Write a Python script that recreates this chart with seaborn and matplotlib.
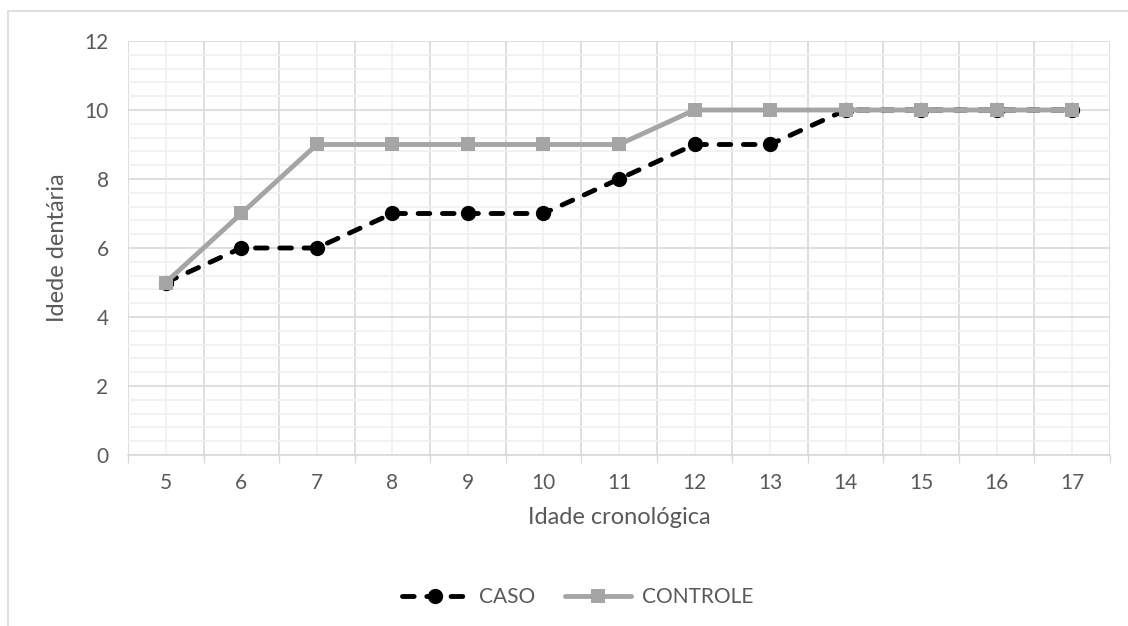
import matplotlib
matplotlib.use("Agg")
import matplotlib.pyplot as plt
from matplotlib.ticker import FixedLocator, MultipleLocator, NullFormatter, FixedFormatter
from matplotlib.lines import Line2D
import seaborn as sns
import pandas as pd

# Chronological age (years) and mean dental age per group
idades = [5, 6, 7, 8, 9, 10, 11, 12, 13, 14, 15, 16, 17]
caso = [5, 6, 6, 7, 7, 7, 8, 9, 9, 10, 10, 10, 10]
controle = [5, 7, 9, 9, 9, 9, 9, 10, 10, 10, 10, 10, 10]

df = pd.DataFrame({
    "idade": idades * 2,
    "dental": caso + controle,
    "grupo": ["CASO"] * len(idades) + ["CONTROLE"] * len(idades),
})

sns.set_theme(style="white")
plt.rcParams["font.family"] = ["Lato", "DejaVu Sans"]
txt = "#595959"
dash = (0, (2.4, 2.6))
caso_style = dict(color="black", linewidth=3.5, linestyle=dash, dash_capstyle="round",
                  marker="o", markersize=11, markeredgewidth=0)
ctrl_style = dict(color="#a5a5a5", linewidth=3.5, marker="s", markersize=10,
                  markeredgewidth=0)

fig = plt.figure(figsize=(11.28, 6.26), dpi=100)
ax = fig.add_axes([128 / 1128, 1 - 455 / 626, (1110 - 128) / 1128, (455 - 41) / 626])

sns.lineplot(data=df[df.grupo == "CASO"], x="idade", y="dental", ax=ax,
             zorder=3, **caso_style)
sns.lineplot(data=df[df.grupo == "CONTROLE"], x="idade", y="dental", ax=ax,
             zorder=4, **ctrl_style)

ax.set_xlim(idades[0] - 0.5, idades[-1] + 0.5)
ax.set_ylim(0, 12)

bounds = [i - 0.5 for i in idades] + [idades[-1] + 0.5]
ax.xaxis.set_major_locator(FixedLocator(bounds))
ax.xaxis.set_major_formatter(NullFormatter())
ax.xaxis.set_minor_locator(FixedLocator(idades))
ax.xaxis.set_minor_formatter(FixedFormatter([str(i) for i in idades]))
ax.tick_params(axis="x", which="major", length=6, width=1, color="#d9d9d9",
               direction="out", bottom=True)
ax.tick_params(axis="x", which="minor", length=0, pad=13, labelsize=15, labelcolor=txt)

ax.yaxis.set_major_locator(MultipleLocator(2))
ax.yaxis.set_minor_locator(MultipleLocator(0.4))
ax.tick_params(axis="y", which="both", length=0, pad=14, labelsize=15, labelcolor=txt)

ax.grid(which="major", color="#d9d9d9", linewidth=1.2)
ax.grid(which="minor", color="#f0f0f0", linewidth=1.2)
ax.set_axisbelow(True)
for side in ["top", "right", "left"]:
    ax.spines[side].set_visible(False)
ax.spines["bottom"].set_color("#d9d9d9")
ax.spines["bottom"].set_linewidth(1.2)

ax.set_xlabel("Idade cronológica", fontsize=17, color=txt, labelpad=10)
ax.set_ylabel("Idede dentária", fontsize=17, color=txt, labelpad=12)

handles = [Line2D([], [], **caso_style), Line2D([], [], **ctrl_style)]
leg = fig.legend(handles, ["CASO", "CONTROLE"], loc="center",
                 bbox_to_anchor=(0.512, 1 - 597 / 626), ncol=2, frameon=False,
                 fontsize=15, handlelength=3.2, columnspacing=1.4, handletextpad=0.5)
for t in leg.get_texts():
    t.set_color(txt)

# Chart-area border
fig.add_artist(Line2D([8 / 1128, 8 / 1128], [0, 1 - 11 / 626], transform=fig.transFigure,
                      color="#d9d9d9", linewidth=1.2))
fig.add_artist(Line2D([8 / 1128, 1], [1 - 11 / 626, 1 - 11 / 626], transform=fig.transFigure,
                      color="#d9d9d9", linewidth=1.2))

fig.savefig("out.png", dpi=100)
